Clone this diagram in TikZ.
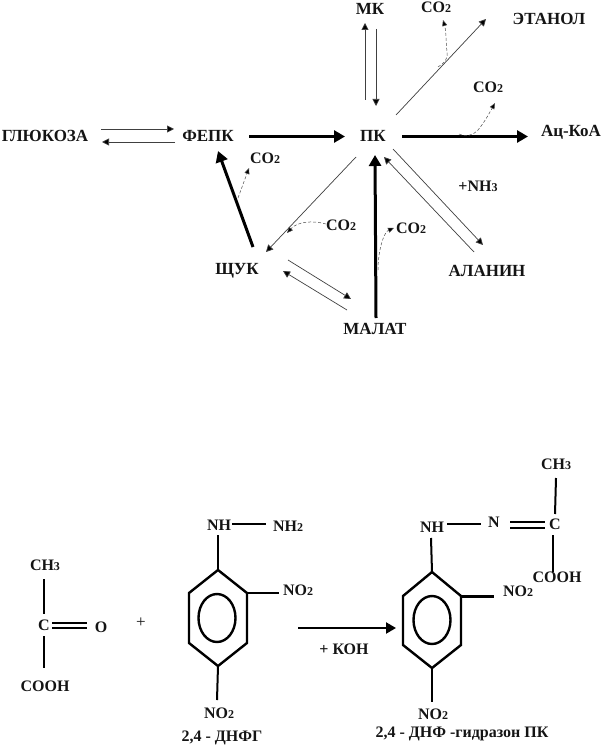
\documentclass[tikz,border=0pt]{standalone}
\usepackage{fontspec}
\setmainfont{Liberation Serif}
\usetikzlibrary{arrows.meta}
\tikzset{
 lbl/.style={inner sep=0pt,font=\fontsize{17}{19}\selectfont\bfseries,text=black!92},
 small/.style={lbl,font=\fontsize{16}{18}\selectfont\bfseries},
 thin arrow/.style={line width=0.7pt,draw=black!75,-{Triangle[length=7pt,width=7pt,fill=black]}},
 thick arrow/.style={line width=3pt,-{Triangle[length=11pt,width=12pt]}},
 gas/.style={line width=0.5pt,draw=black!70,densely dashed,-{Triangle[length=6pt,width=5pt,fill=black]}},
 bond/.style={line width=2pt},
 ringline/.style={line width=2.4pt,line join=miter},
}
\newcommand{\lowsub}[1]{{\fontsize{12}{12}\selectfont #1}}
\begin{document}
\begin{tikzpicture}[x=1pt,y=-1pt]
\useasboundingbox (0,0) rectangle (602,746);
% upper scheme
\node[lbl] (glu) at (45,136) {ГЛЮКОЗА};
\node[lbl] (fepk) at (208,136) {ФЕПК};
\node[lbl] (pk) at (373,136) {ПК};
\node[lbl] (acoa) at (571,132) {Ац-КоА};
\node[lbl] (mk) at (370,9) {МК};
\node[lbl] (et) at (549,19) {ЭТАНОЛ};
\node[small] (co2a) at (436,7) {CO\lowsub{2}};
\node[small] (co2b) at (488,87) {CO\lowsub{2}};
\node[small] (nh3) at (478,186) {+NH\lowsub{3}};
\node[small] (co2c) at (411,228) {CO\lowsub{2}};
\node[small] (co2d) at (341,225) {CO\lowsub{2}};
\node[small] (co2e) at (265,158) {CO\lowsub{2}};
\node[lbl] (ala) at (487,271) {АЛАНИН};
\node[lbl] (mal) at (375,329) {МАЛАТ};
\node[lbl] (shuk) at (237,271) {ЩУК};
\draw[thin arrow] ([shift={(56,-7)}]glu.center) -- ([shift={(-34,-7)}]fepk.center);
\draw[thin arrow] ([shift={(-33,6)}]fepk.center) -- ([shift={(57,6)}]glu.center);
\draw[thick arrow] ([shift={(41,0.5)}]fepk.center) -- ([shift={(-28,0.5)}]pk.center);
\draw[thick arrow] ([shift={(29,0.5)}]pk.center) -- ([shift={(-43,4.5)}]acoa.center);
\draw[thick arrow] ([shift={(16,-24)}]shuk.center) -- ([shift={(10,15)}]fepk.center);
\draw[thick arrow] ([shift={(1,-11)}]mal.center) -- ([shift={(2,19)}]pk.center);
\draw[thin arrow] ([shift={(-17,21)}]pk.center) -- ([shift={(29,-19)}]shuk.center);
\draw[thin arrow] ([shift={(23,-21)}]pk.center) -- ([shift={(-63,0)}]et.center);
\draw[thin arrow] ([shift={(-8,-36)}]pk.center) -- ([shift={(-5,14)}]mk.center);
\draw[thin arrow] ([shift={(6,20)}]mk.center) -- ([shift={(3,-30)}]pk.center);
\draw[thin arrow] ([shift={(20,13)}]pk.center) -- ([shift={(-4,-26)}]ala.center);
\draw[thin arrow] ([shift={(-13,-19)}]ala.center) -- ([shift={(11,21)}]pk.center);
\draw[thin arrow] ([shift={(51,-11)}]shuk.center) -- ([shift={(-24,-30)}]mal.center);
\draw[thin arrow] ([shift={(-28,-19)}]mal.center) -- ([shift={(46,0)}]shuk.center);
\draw[gas] (438,67) .. controls (444,63) and (448,60) .. (447,52) .. controls (446,42) and (446,30) .. ([shift={(7,13)}]co2a.center);
\draw[gas] (459,134) .. controls (466,137) and (472,136) .. (478,130) .. controls (484,123) and (490,112) .. ([shift={(7,16)}]co2b.center);
\draw[gas] (378,270) .. controls (378,250) and (384,232) .. ([shift={(-17,0)}]co2c.center);
\draw[gas] ([shift={(-15,-1)}]co2d.center) .. controls (312,220) and (297,222) .. (287,233);
\draw[gas] (238,198) -- ([shift={(-16,10)}]co2e.center);
% pyruvate
\node[small] (ch3l) at (45,565) {CH\lowsub{3}};
\node[small] (cl) at (44,625) {C};
\node[small] (ol) at (101,627) {O};
\node[small] (coohl) at (45,686) {COOH};
\node[lbl,font=\fontsize{17}{19}\selectfont] (plus) at (141,623) {+};
\draw[bond] ([shift={(-1,14)}]ch3l.center) -- ([shift={(0,-11)}]cl.center);
\draw[bond] ([shift={(0,11)}]cl.center) -- ([shift={(-1,-18)}]coohl.center);
\draw[bond] ([shift={(8,-2)}]cl.center) -- ([shift={(-14,-4)}]ol.center);
\draw[bond] ([shift={(8,3)}]cl.center) -- ([shift={(-14,1)}]ol.center);
% DNPH
\node[small] (nh1) at (219,525) {NH};
\node[small] (nh2) at (288,526) {NH\lowsub{2}};
\node[small] (no1) at (298,590) {NO\lowsub{2}};
\node[small] (no2) at (219,713) {NO\lowsub{2}};
\node[small] (dnfg) at (222,738) {2,4 - ДНФГ};
\coordinate (a1) at (218,570);
\coordinate (a2) at (247,593);
\coordinate (a3) at (247,643);
\coordinate (a4) at (218,666);
\coordinate (a5) at (189,643);
\coordinate (a6) at (189,593);
\draw[ringline] (a1) -- (a2) -- (a3) -- (a4) -- (a5) -- (a6) -- cycle;
\draw[ringline] (217,618) ellipse [x radius=18.5,y radius=24];
\draw[bond] ([shift={(13,-1)}]nh1.center) -- ([shift={(-22,-2)}]nh2.center);
\draw[bond] ([shift={(-1,10)}]nh1.center) -- (a1);
\draw[bond] (a2) -- ([shift={(-19,3)}]no1.center);
\draw[bond] (a4) -- ([shift={(-2,-13)}]no2.center);
% arrow
\node[small] (kon) at (344,649) {+ КОН};
\coordinate (arrs) at (298,628);
\coordinate (arre) at (396,628);
\draw[line width=2.2pt,-{Triangle[length=10pt,width=11pt]}] (arrs) -- (arre);
% hydrazone
\node[small] (ch3r) at (556,464) {CH\lowsub{3}};
\node[small] (cr) at (555,524) {C};
\node[small] (nr) at (494,522) {N};
\node[small] (nhr) at (432,527) {NH};
\node[small] (coohr) at (557,577) {COOH};
\node[small] (nor) at (518,591) {NO\lowsub{2}};
\node[small] (nob) at (433,714) {NO\lowsub{2}};
\node[small] (hyd) at (462,734) {2,4 - ДНФ -гидразон ПК};
\coordinate (b1) at (432,572);
\coordinate (b2) at (461,596);
\coordinate (b3) at (461,645);
\coordinate (b4) at (432,668);
\coordinate (b5) at (403,645);
\coordinate (b6) at (403,596);
\draw[ringline] (b1) -- (b2) -- (b3) -- (b4) -- (b5) -- (b6) -- cycle;
\draw[ringline] (432,620) ellipse [x radius=18.5,y radius=24];
\draw[bond] ([shift={(0,14)}]ch3r.center) -- ([shift={(0,-10)}]cr.center);
\draw[bond] ([shift={(-2,11)}]cr.center) -- ([shift={(-4,-5)}]coohr.center);
\draw[bond] ([shift={(15,-3)}]nhr.center) -- ([shift={(-13,2)}]nr.center);
\draw[bond] ([shift={(-1,11)}]nhr.center) -- (b1);
\draw[line width=3pt] (b2) -- ([shift={(-24,5)}]nor.center);
\draw[bond] (b4) -- ([shift={(-1,-12)}]nob.center);
\draw[bond] ([shift={(16,0)}]nr.center) -- ([shift={(-10,-2)}]cr.center);
\draw[bond] ([shift={(16,6)}]nr.center) -- ([shift={(-10,4)}]cr.center);
\end{tikzpicture}
\end{document}
